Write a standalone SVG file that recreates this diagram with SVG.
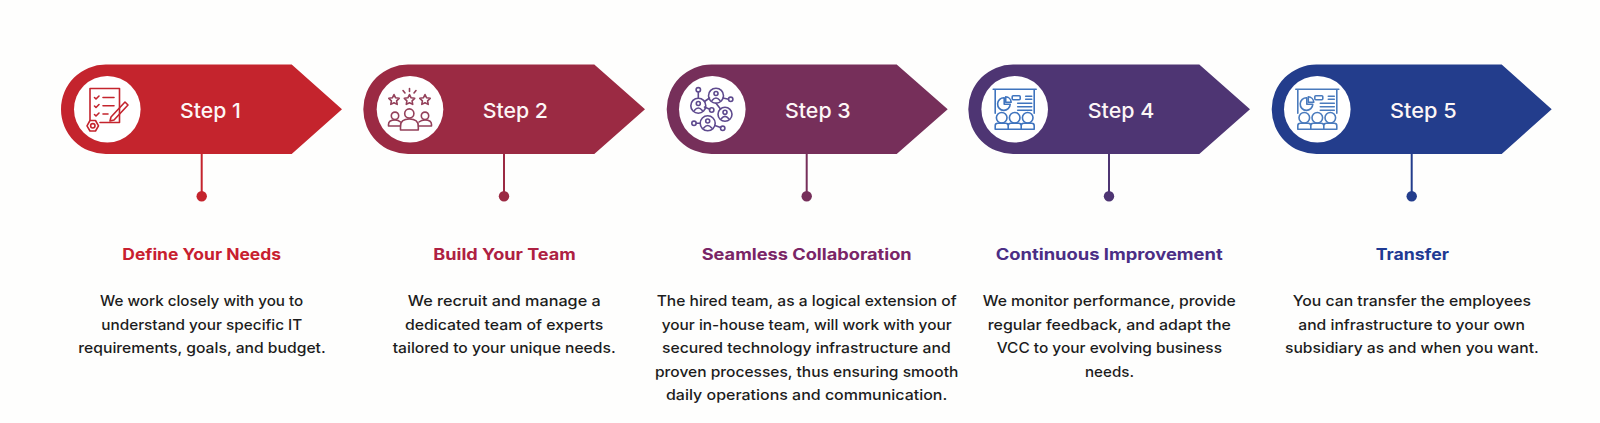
<svg xmlns="http://www.w3.org/2000/svg" xmlns:xlink="http://www.w3.org/1999/xlink" width="1600" height="423" viewBox="0 0 1600 423">
<style>
text{font-family:"Inter","Noto Sans","Liberation Sans",sans-serif}
.step{font-size:20.5px;font-weight:500;fill:#fdf6f6}
.title{font-size:15.5px;font-weight:700}
.body{font-size:14.6px;font-weight:450;fill:#1c1c1c}
.disc{fill:#ffffff}
.ic{fill:none;stroke-width:1.6;stroke-linecap:round;stroke-linejoin:round}
.conn{stroke-width:2;fill:none}
</style>
<defs>
<g id="board" class="ic">
<path d="M-21.500-20H21.500M-19.500-20V4M19.500-20V4"/>
<path d="M-10.500-11.500A6.300 6.300 0 1 0-4.500-5H-10.500Z"/>
<path d="M-9-12.500A6 6 0 0 1-3.500-7H-9Z"/>
<rect x="-2.500" y="-13.500" width="8" height="4" rx="1"/>
<path d="M11-13H17M11-10H17M3-6H17M3-2.500H17M3 1H17"/>
<circle cx="-13" cy="8.500" r="5.300"/><circle cx="0" cy="8.500" r="5.300"/><circle cx="13" cy="8.500" r="5.300"/>
<path d="M-19.500 20V16.500Q-19.500 14-17 14H-9Q-6.500 14-6.500 16.500V20ZM-6.500 20V16.500Q-6.500 14-4 14H4Q6.500 14 6.500 16.500V20ZM6.500 20V16.500Q6.500 14 9 14H17Q19.500 14 19.500 16.500V20Z"/>
</g>
</defs>
<rect width="1600" height="423" fill="#fefefd"/>

<g id="connectors">
<path class="conn" stroke="#c4242d" d="M201.700 154V196"/><circle cx="201.700" cy="196.300" r="5.200" fill="#c4242d"/>
<path class="conn" stroke="#9b2a43" d="M504 154V196"/><circle cx="504" cy="196.300" r="5.200" fill="#9b2a43"/>
<path class="conn" stroke="#762f5a" d="M806.700 154V196"/><circle cx="806.700" cy="196.300" r="5.200" fill="#762f5a"/>
<path class="conn" stroke="#4e3573" d="M1109 154V196"/><circle cx="1109" cy="196.300" r="5.200" fill="#4e3573"/>
<path class="conn" stroke="#233d8c" d="M1411.700 154V196"/><circle cx="1411.700" cy="196.300" r="5.200" fill="#233d8c"/>
</g>

<g id="step-1">
<path fill="#c4242d" d="M105.750 64.500H291.700L342 109.250 291.700 154H105.750A44.750 44.750 0 0 1 105.750 64.500Z"/>
<circle class="disc" cx="107.300" cy="109.300" r="33.300"/>
<g class="ic" stroke="#c4242d">
<path d="M90 120V88.500H119.500V122.500H100"/>
<path d="M94.500 97.500l1.500 1.500 3-3M94.500 106l1.500 1.500 3-3M94.500 114.500l1.500 1.500 3-3"/>
<path d="M103 97.500H114M103 105.800H114M103 114H108"/>
<path d="M125 102L128 105 114 120 110 121 111 117Z"/>
<circle cx="92.800" cy="125.800" r="2.200"/>
<path d="M90 120.500H95.500L98.500 125.800 95.500 131H90L87 125.800Z"/>
</g>
<text class="step" x="180" y="117.700" textLength="60.700" lengthAdjust="spacingAndGlyphs">Step 1</text>
<text class="title" fill="#c8202f" x="122.300" y="260" textLength="158.700" lengthAdjust="spacingAndGlyphs">Define Your Needs</text>
<text class="body"><tspan x="100" y="306" textLength="203.300" lengthAdjust="spacingAndGlyphs">We work closely with you to</tspan><tspan x="101.300" y="329.500" textLength="201" lengthAdjust="spacingAndGlyphs">understand your specific IT</tspan><tspan x="78.300" y="353" textLength="247.400" lengthAdjust="spacingAndGlyphs">requirements, goals, and budget.</tspan></text>
</g>

<g id="step-2">
<path fill="#9b2a43" d="M408.050 64.500H594.300L645 109.250 594.300 154H408.050A44.750 44.750 0 0 1 408.050 64.500Z"/>
<circle class="disc" cx="410" cy="109.300" r="33.300"/>
<g class="ic" stroke="#93405a">
<path d="M394 94.500l1.600 3.300 3.600.5-2.600 2.500.6 3.600-3.200-1.700-3.200 1.700.6-3.600-2.600-2.500 3.600-.5Z"/>
<path d="M409.500 94.500l1.600 3.300 3.600.5-2.600 2.500.6 3.600-3.200-1.700-3.200 1.700.6-3.600-2.600-2.500 3.600-.5Z"/>
<path d="M425 94.500l1.600 3.300 3.600.5-2.600 2.500.6 3.600-3.200-1.700-3.200 1.700.6-3.600-2.600-2.500 3.600-.5Z"/>
<path d="M409.500 88.500V91.500M403 90.500L405 93M416 90.500L414 93"/>
<circle cx="409.300" cy="113.500" r="4.600"/><circle cx="395" cy="115.800" r="3.700"/><circle cx="425" cy="115.800" r="3.700"/>
<path d="M400.500 130V126Q400.500 119 409.300 119 418.300 119 418.300 126V130Z"/>
<path d="M400.500 126H388.500V124.500Q388.500 120 395 120 398.500 120 400.500 122M418.300 126H431.500V124.500Q431.500 120 425 120 421.500 120 419 122"/>
</g>
<text class="step" x="482.700" y="117.700" textLength="65.300" lengthAdjust="spacingAndGlyphs">Step 2</text>
<text class="title" fill="#ae2142" x="433.300" y="260" textLength="142.400" lengthAdjust="spacingAndGlyphs">Build Your Team</text>
<text class="body"><tspan x="407.700" y="306" textLength="193" lengthAdjust="spacingAndGlyphs">We recruit and manage a</tspan><tspan x="405" y="329.500" textLength="198.300" lengthAdjust="spacingAndGlyphs">dedicated team of experts</tspan><tspan x="392.700" y="353" textLength="223" lengthAdjust="spacingAndGlyphs">tailored to your unique needs.</tspan></text>
</g>

<g id="step-3">
<path fill="#762f5a" d="M711.450 64.500H896.700L947.700 109.250 896.700 154H711.450A44.750 44.750 0 0 1 711.450 64.500Z"/>
<circle class="disc" cx="712.300" cy="109.300" r="33.300"/>
<g class="ic" stroke="#5e4a8e">
<circle cx="698.300" cy="105.700" r="7.500"/><circle cx="716" cy="95.700" r="7.500"/><circle cx="725" cy="114.300" r="7"/><circle cx="707.700" cy="123.300" r="7.500"/>
<circle cx="698.300" cy="89.800" r="2.200"/><circle cx="730.700" cy="99.300" r="2.200"/><circle cx="711.700" cy="110" r="2.200"/><circle cx="694" cy="123.300" r="2.200"/><circle cx="722.700" cy="128.300" r="2.200"/>
<path d="M698.300 92V98.200M723 98L728.500 99.300M704.500 107L709.700 109.200M696.200 123.300H700.200M715 125.500L720.600 127.500M704.500 101.500L709.500 98M716 103.200L720.500 109"/>
<circle cx="698.300" cy="103.500" r="2"/><path d="M694.300 110.500Q698.300 105.500 702.300 110.500"/>
<circle cx="716" cy="93.500" r="2"/><path d="M712 100.500Q716 95.500 720 100.500"/>
<circle cx="725" cy="112.300" r="2"/><path d="M721.200 118.700Q725 114 728.800 118.700"/>
<circle cx="707.700" cy="121" r="2"/><path d="M703.700 128Q707.700 123 711.700 128"/>
</g>
<text class="step" x="785" y="117.700" textLength="65.700" lengthAdjust="spacingAndGlyphs">Step 3</text>
<text class="title" fill="#7a2566" x="701.700" y="260" textLength="210" lengthAdjust="spacingAndGlyphs">Seamless Collaboration</text>
<text class="body"><tspan x="656.700" y="306" textLength="300" lengthAdjust="spacingAndGlyphs">The hired team, as a logical extension of</tspan><tspan x="661.700" y="329.500" textLength="290" lengthAdjust="spacingAndGlyphs">your in-house team, will work with your</tspan><tspan x="662" y="353" textLength="288.700" lengthAdjust="spacingAndGlyphs">secured technology infrastructure and</tspan><tspan x="655" y="376.500" textLength="303.300" lengthAdjust="spacingAndGlyphs">proven processes, thus ensuring smooth</tspan><tspan x="666" y="400" textLength="281.300" lengthAdjust="spacingAndGlyphs">daily operations and communication.</tspan></text>
</g>

<g id="step-4">
<path fill="#4e3573" d="M1013.050 64.500H1199.300L1250 109.250 1199.300 154H1013.050A44.750 44.750 0 0 1 1013.050 64.500Z"/>
<circle class="disc" cx="1014.700" cy="109.300" r="33.300"/>
<use href="#board" x="1014.700" y="109.300" stroke="#3f74be"/>
<text class="step" x="1087.700" y="117.700" textLength="66.600" lengthAdjust="spacingAndGlyphs">Step 4</text>
<text class="title" fill="#4b2e85" x="995.700" y="260" textLength="227" lengthAdjust="spacingAndGlyphs">Continuous Improvement</text>
<text class="body"><tspan x="982.700" y="306" textLength="253" lengthAdjust="spacingAndGlyphs">We monitor performance, provide</tspan><tspan x="987.700" y="329.500" textLength="243.300" lengthAdjust="spacingAndGlyphs">regular feedback, and adapt the</tspan><tspan x="996.700" y="353" textLength="225.300" lengthAdjust="spacingAndGlyphs">VCC to your evolving business</tspan><tspan x="1085" y="376.500" textLength="49" lengthAdjust="spacingAndGlyphs">needs.</tspan></text>
</g>

<g id="step-5">
<path fill="#233d8c" d="M1316.450 64.500H1501.700L1551.700 109.250 1501.700 154H1316.450A44.750 44.750 0 0 1 1316.450 64.500Z"/>
<circle class="disc" cx="1317.300" cy="109.300" r="33.300"/>
<use href="#board" x="1317.300" y="109.300" stroke="#4a7bbd"/>
<text class="step" x="1390" y="117.700" textLength="66.700" lengthAdjust="spacingAndGlyphs">Step 5</text>
<text class="title" fill="#1f3a93" x="1375.700" y="260" textLength="73.300" lengthAdjust="spacingAndGlyphs">Transfer</text>
<text class="body"><tspan x="1292.700" y="306" textLength="238.300" lengthAdjust="spacingAndGlyphs">You can transfer the employees</tspan><tspan x="1298.300" y="329.500" textLength="226.700" lengthAdjust="spacingAndGlyphs">and infrastructure to your own</tspan><tspan x="1285" y="353" textLength="253.700" lengthAdjust="spacingAndGlyphs">subsidiary as and when you want.</tspan></text>
</g>
</svg>
